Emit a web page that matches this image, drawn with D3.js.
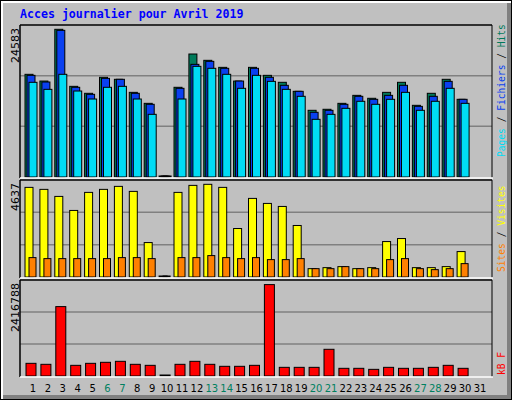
<!DOCTYPE html><html><head><meta charset="utf-8">
<script src="https://cdn.jsdelivr.net/npm/d3@7"></script>
<style>body{margin:0;background:#fff}</style></head><body><svg id="c" width="512" height="400"></svg>
<script>
const days=d3.range(1,32);
const weekend=[6,7,13,14,20,21,27,28];
const hits=[17090,15970,24583,15090,13930,16590,16260,14090,12260,0,14930,20470,19420,18250,15970,18250,16920,15760,14260,11100,11270,12260,13590,13100,14090,15760,11930,13930,16260,12930,null];
const files=[16920,15810,24410,14930,13760,16420,16260,13930,12100,0,14760,18750,19250,18090,15970,18090,16590,15260,14260,10770,11100,12100,13430,12930,13590,15260,11760,13430,15920,12930,null];
const pages=[15760,14590,17090,14310,12980,14930,15090,12980,10430,0,12980,18420,18090,17090,14760,16920,15920,14590,13430,9600,10430,11430,12600,12100,12930,14090,11100,12600,14760,12260,null];
const visits=[4484,4384,4032,3330,4233,4384,4534,4283,1723,0,4233,4584,4637,4484,2426,3932,3681,3530,2577,418,468,519,418,468,1773,1924,468,468,519,1272,null];
const sites=[970,920,920,920,920,920,970,970,920,0,970,970,1071,970,920,970,870,870,920,418,418,519,418,418,870,920,418,368,418,669,null];
const kb=[335000,309000,1835000,282000,335000,362000,388000,309000,282000,0,309000,388000,309000,256000,256000,282000,2416788,229000,229000,229000,706000,203000,203000,176000,229000,203000,203000,229000,282000,203000,null];
const maxLabels=["24583","4637","2416788"];

const svg=d3.select("#c");
svg.append("rect").attr("width",512).attr("height",400).attr("fill","#000");
svg.append("rect").attr("x",1).attr("y",1).attr("width",510).attr("height",398).attr("fill","#fff");
svg.append("rect").attr("x",3).attr("y",3).attr("width",508).attr("height",396).attr("fill","#808080");
svg.append("rect").attr("x",3).attr("y",3).attr("width",504).attr("height",392).attr("fill","#c0c0c0");
svg.append("text").attr("x",20).attr("y",18).text("Acces journalier pour Avril 2019")
 .attr("font-family","DejaVu Sans Mono").attr("font-weight","bold").attr("font-size","11.6px").attr("fill","#0000ff");

const x=d3.scaleLinear().domain([1,31]).range([33,480]);
const panels=[{top:25,base:177,max:24583*152/147.7,series:[[hits,-8,8,"#007a5a"],[files,-6,8,"#0a40f0"],[pages,-4,8,"#00dcf5"]]},
 {top:180,base:277,max:4637*96.7/92.4,series:[[visits,-8,8,"#ffff00"],[sites,-4,7,"#ff8000"]]},
 {top:280,base:376,max:2416788*96/91.4,series:[[kb,-7,10,"#ff0000"]]}];
const pbot=[178,278,377];
panels.forEach((p,i)=>{
  const y=d3.scaleLinear().domain([0,p.max]).range([p.base,p.top]);
  svg.append("rect").attr("x",20).attr("y",p.top).attr("width",472).attr("height",pbot[i]-p.top).attr("fill","#c0c0c0");
  const g=svg.append("g");
  const step=(p.base-p.top)/3;
  [1,2].forEach(k=>g.append("line").attr("x1",20).attr("x2",492).attr("y1",p.base-step*k).attr("y2",p.base-step*k).attr("stroke","#808080").attr("stroke-width",1.5));
  p.series.forEach(([arr,off,w,col])=>{
    g.selectAll(null).data(days.filter(d=>arr[d-1]!==null)).enter().append("rect")
     .attr("x",d=>x(d)+off).attr("width",w)
     .attr("y",d=>Math.min(y(arr[d-1]),p.base-1)).attr("height",d=>Math.max(p.base-y(arr[d-1]),1))
     .attr("fill",col).attr("stroke","#000").attr("stroke-width",1);
  });
  svg.append("line").attr("x1",20).attr("x2",492).attr("y1",p.top).attr("y2",p.top).attr("stroke","#000").attr("stroke-width",1.5);
  svg.append("line").attr("x1",20).attr("x2",20).attr("y1",p.top).attr("y2",pbot[i]).attr("stroke","#000").attr("stroke-width",1.5);
  svg.append("line").attr("x1",492).attr("x2",492).attr("y1",p.top).attr("y2",pbot[i]).attr("stroke","#000").attr("stroke-width",1);
  svg.append("line").attr("x1",20).attr("x2",493).attr("y1",pbot[i]).attr("y2",pbot[i]).attr("stroke","#fff").attr("stroke-width",1.5);
  svg.append("text").attr("transform",`translate(19,${p.top+3}) rotate(-90)`).attr("text-anchor","end")
   .attr("font-family","DejaVu Sans").attr("font-size","11px").text(maxLabels[i]);
});
function legend(yb,parts){
  const t=svg.append("text").attr("transform",`translate(505,${yb}) rotate(-90)`)
   .attr("font-family","DejaVu Sans Mono").attr("font-size","9.6px");
  parts.forEach(([s,c])=>t.append("tspan").text(s).attr("fill",c));
}
legend(157,[["Pages","#00dcf5"],[" / ","#000"],["Fichiers","#0a40f0"],[" / ","#000"],["Hits","#007a5a"]]);
legend(272,[["Sites","#ff8000"],[" / ","#000"],["Visites","#ffff00"]]);
legend(375,[["kB F","#ff0000"]]);
const xa=svg.append("g").attr("transform","translate(0,392)");
xa.selectAll("text").data(days).enter().append("text").attr("x",d=>x(d)).attr("text-anchor","middle")
 .attr("font-family","DejaVu Sans").attr("font-size","10px").attr("fill",d=>weekend.includes(d)?"#008060":"#000").text(d=>d);
</script></body></html>
